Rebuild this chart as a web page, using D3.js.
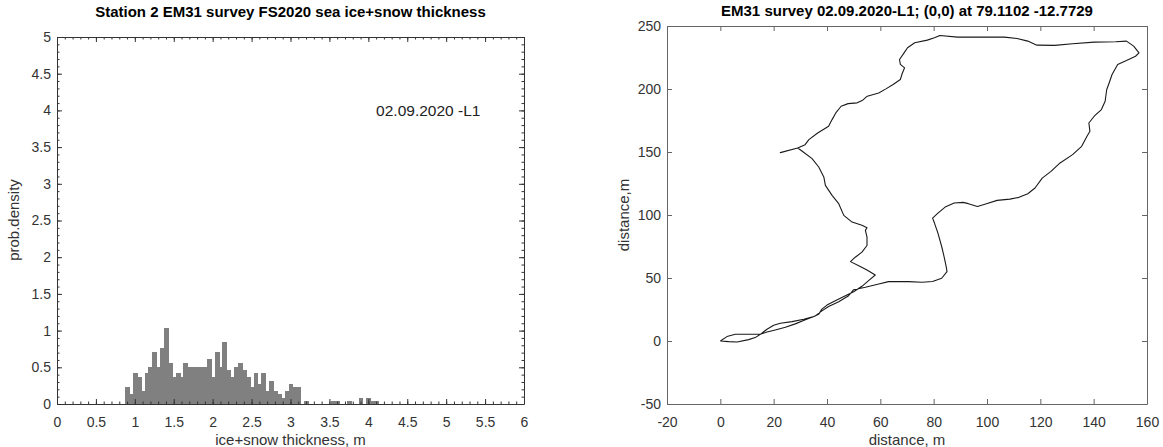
<!DOCTYPE html>
<html>
<head>
<meta charset="utf-8">
<script src="https://cdn.jsdelivr.net/npm/d3@7"></script>
<style>
  body { margin: 0; background: #fff; }
  svg { display: block; font-family: "Liberation Sans", Arial, sans-serif; }
  .tick text { fill: #333; }
</style>
</head>
<body>
<svg id="chart" width="1163" height="447"></svg>
<script>
// histogram: left edge of each bin (width 0.05 m) and its probability density
const binLeft = [0.875, 0.925, 0.975, 1.025, 1.075, 1.125, 1.175, 1.225, 1.275, 1.325,
  1.375, 1.425, 1.475, 1.525, 1.575, 1.625, 1.675, 1.725, 1.775, 1.825,
  1.875, 1.925, 1.975, 2.025, 2.075, 2.125, 2.175, 2.225, 2.275, 2.325,
  2.375, 2.425, 2.475, 2.525, 2.575, 2.625, 2.675, 2.725, 2.775, 2.825,
  2.875, 2.925, 2.975, 3.025, 3.075, 3.175, 3.525, 3.575, 3.725, 3.875,
  3.975, 4.025, 4.075];
const density = [0.23, 0.13, 0.42, 0.37, 0.18, 0.42, 0.51, 0.71, 0.51, 0.76,
  1.04, 0.56, 0.37, 0.42, 0.37, 0.56, 0.51, 0.51, 0.51, 0.51,
  0.51, 0.61, 0.37, 0.71, 0.51, 0.85, 0.47, 0.37, 0.51, 0.56,
  0.47, 0.37, 0.23, 0.42, 0.27, 0.42, 0.18, 0.32, 0.18, 0.13,
  0.08, 0.18, 0.27, 0.23, 0.23, 0.04, 0.04, 0.04, 0.04, 0.08,
  0.08, 0.04, 0.04];
const binWidth = 0.05;

const histXTicks = [0, 0.5, 1, 1.5, 2, 2.5, 3, 3.5, 4, 4.5, 5, 5.5, 6];
const histYTicks = [0, 0.5, 1, 1.5, 2, 2.5, 3, 3.5, 4, 4.5, 5];

// survey track (m from start point)
const trackX = [0, 3.1, 6.3, 10.6, 13.1, 15, 17.5, 20.6, 24.4, 28.1, 31.9, 35.6, 38.1,
  40.6, 44.4, 48.1, 50, 54.4, 59.4, 63.1, 70.6, 75.6, 79.6, 83, 85, 84.7, 83.9, 83,
  81.6, 80.3, 79.6, 81.6, 84.3, 87.7, 91, 93, 96.4, 99.8, 103.8, 108.6, 112, 115.3,
  118, 120.7, 124, 127.4, 132.1, 135.5, 137.5, 138.6, 138.2, 140.2, 142.9, 144.3,
  144.9, 145.6, 146.9, 149, 152.3, 155.7, 157, 155, 152.3, 148.3, 140.2, 132.1,
  125.4, 118.7, 115.3, 111.3, 106.5, 101.2, 89, 82.3, 80.3, 77.6, 72.9, 70.2, 68.9,
  67.2, 67.5, 69.1, 68.2, 67.5, 64.8, 62.1, 59.4, 55.1, 53.4, 51.3, 47.9, 45.3, 43.3,
  41.9, 40.6, 36.5, 33.2, 31.8, 29, 22.5, 29, 30.6, 34.4, 36.9, 38.8, 39.4, 41.9,
  44.4, 46.3, 49.4, 53.1, 55, 54.4, 55, 55, 53.1, 50.6, 48.8, 51.9, 55, 58.1, 55.6,
  53.1, 50, 46.9, 43.1, 40, 38.1, 36.9, 35, 31.3, 26.9, 22.5, 20, 17.5, 15, 10.6,
  5.6, 2.5, 0];
const trackY = [0, -0.5, -0.8, 1.1, 2.7, 5.3, 7.2, 8.8, 10.9, 13.6, 16.8, 19.9, 23.9,
  27.4, 31.1, 35.9, 40.7, 42.6, 45.2, 47.1, 47.1, 46.6, 47.2, 49.8, 55, 59, 67, 75,
  85.6, 93.6, 97.5, 101.5, 106.3, 109.5, 110, 109, 106.8, 109, 111.6, 112.6, 114, 116.9,
  121.4, 129.3, 134.6, 141.3, 147.9, 154.5, 162.5, 166.4, 173, 178.4, 183.7, 190.3,
  199.6, 203.6, 211.5, 219.5, 222.6, 226, 228.7, 234, 238, 237.5, 237.2, 235.9,
  234.6, 234.8, 238, 240.1, 241.2, 241.2, 241.2, 242.5, 240.6, 238.8, 236.7, 232.7, 228.7,
  223.4, 219.5, 216.8, 212.3, 207.5, 203.6, 200.1, 196.9, 194.3, 191.1, 189, 188.4, 186.3, 181,
  175.7, 170.4, 165.1, 159.8, 155.8, 153.2, 149.5, 153.2, 150.8, 144.7, 138.1, 130.2, 123.5, 115.6,
  109, 99.7, 94.4, 91.8, 89.9, 87.8, 82.4, 75.8, 70.5, 66.5, 63, 59.8, 56.4, 52.4, 47.9,
  43.4, 39.1, 35.9, 31.9, 28.5, 25.3, 21.3, 19.4, 17.3, 15.4, 14.1, 12.5, 9.3, 5.3, 5.3,
  5.3, 3.5, 0];

const mapXTicks = [-20, 0, 20, 40, 60, 80, 100, 120, 140, 160];
const mapYTicks = [-50, 0, 50, 100, 150, 200, 250];

const svg = d3.select('#chart');
svg.append('rect').attr('width', 1163).attr('height', 447).attr('fill', '#fff');

// plain hyphen minus like matlab, no trailing zeros
const fmt = d => String(+d.toFixed(2));

// ---------- left panel: histogram ----------
const hx = d3.scaleLinear().domain([0, 6]).range([57, 524]);
const hy = d3.scaleLinear().domain([0, 5]).range([404, 37]);

const left = svg.append('g');

left.append('g')
  .attr('shape-rendering', 'crispEdges')
  .selectAll('rect')
  .data(binLeft.map((b, i) => ({ b, v: density[i] })))
  .join('rect')
  .attr('x', d => Math.round(hx(d.b)))
  .attr('width', d => Math.round(hx(d.b + binWidth)) - Math.round(hx(d.b)))
  .attr('y', d => Math.round(hy(d.v)))
  .attr('height', d => Math.round(hy(0)) - Math.round(hy(d.v)))
  .attr('fill', '#808080')
  .attr('stroke', '#808080')
  .attr('stroke-width', 1);

function boxAxes(g, x, y, opt) {
  const x0 = x.range()[0], x1 = x.range()[1];
  const y0 = y.range()[0], y1 = y.range()[1];

  // minor ticks
  if (opt.minorX) {
    [[d3.axisBottom, y0], [d3.axisTop, y1]].forEach(([a, pos]) => {
      g.append('g').attr('transform', `translate(0,${pos})`)
        .call(a(x).tickValues(opt.minorX).tickSize(-2.5).tickFormat(''))
        .call(s => s.select('.domain').remove());
    });
    [[d3.axisLeft, x0], [d3.axisRight, x1]].forEach(([a, pos]) => {
      g.append('g').attr('transform', `translate(${pos},0)`)
        .call(a(y).tickValues(opt.minorY).tickSize(-2.5).tickFormat(''))
        .call(s => s.select('.domain').remove());
    });
  }
  // major ticks, labels on bottom and left only
  g.append('g').attr('transform', `translate(0,${y0})`)
    .call(d3.axisBottom(x).tickValues(opt.xTicks).tickSize(-5).tickSizeOuter(0).tickPadding(13).tickFormat(fmt));
  g.append('g').attr('transform', `translate(0,${y1})`)
    .call(d3.axisTop(x).tickValues(opt.xTicks).tickSize(-5).tickSizeOuter(0).tickFormat(''));
  g.append('g').attr('transform', `translate(${x0},0)`)
    .call(d3.axisLeft(y).tickValues(opt.yTicks).tickSize(-5).tickSizeOuter(0).tickPadding(6).tickFormat(fmt));
  g.append('g').attr('transform', `translate(${x1},0)`)
    .call(d3.axisRight(y).tickValues(opt.yTicks).tickSize(-5).tickSizeOuter(0).tickFormat(''));

  g.selectAll('.domain, .tick line').attr('stroke', opt.color);
  g.selectAll('.tick text').attr('font-size', 14).attr('font-family', '"Liberation Sans", Arial, sans-serif');
}

boxAxes(left, hx, hy, {
  xTicks: histXTicks,
  yTicks: histYTicks,
  minorX: d3.range(0, 60.5, 1).map(d => d / 10),
  minorY: d3.range(0, 50.5, 1).map(d => d / 10),
  color: '#333'
});

left.append('text')
  .attr('x', (hx.range()[0] + hx.range()[1]) / 2).attr('y', 17)
  .attr('text-anchor', 'middle').attr('font-size', 15).attr('font-weight', 'bold')
  .text('Station 2 EM31 survey FS2020 sea ice+snow thickness');

left.append('text')
  .attr('x', (hx.range()[0] + hx.range()[1]) / 2).attr('y', 445)
  .attr('text-anchor', 'middle').attr('font-size', 15).attr('fill', '#333')
  .text('ice+snow thickness, m');

left.append('text')
  .attr('transform', 'translate(19,220) rotate(-90)')
  .attr('text-anchor', 'middle').attr('font-size', 15).attr('fill', '#333')
  .text('prob.density');

left.append('text')
  .attr('x', hx(4.1)).attr('y', hy(4)).attr('dy', '0.35em')
  .attr('font-size', 15.5).attr('fill', '#222')
  .text('02.09.2020 -L1');

// ---------- right panel: survey track ----------
const mx = d3.scaleLinear().domain([-20, 160]).range([667, 1147]);
const my = d3.scaleLinear().domain([-50, 250]).range([404, 26]);

const right = svg.append('g');

right.append('path')
  .datum(trackX.map((x, i) => [x, trackY[i]]))
  .attr('fill', 'none')
  .attr('stroke', '#1a1a1a')
  .attr('stroke-width', 1.1)
  .attr('stroke-linejoin', 'round')
  .attr('d', d3.line().x(d => mx(d[0])).y(d => my(d[1])));

boxAxes(right, mx, my, {
  xTicks: mapXTicks,
  yTicks: mapYTicks,
  color: '#666'
});

right.append('text')
  .attr('x', (mx.range()[0] + mx.range()[1]) / 2).attr('y', 16)
  .attr('text-anchor', 'middle').attr('font-size', 15).attr('font-weight', 'bold')
  .text('EM31 survey 02.09.2020-L1; (0,0) at 79.1102 -12.7729');

right.append('text')
  .attr('x', (mx.range()[0] + mx.range()[1]) / 2).attr('y', 445)
  .attr('text-anchor', 'middle').attr('font-size', 15).attr('fill', '#333')
  .text('distance, m');

right.append('text')
  .attr('transform', 'translate(629,215) rotate(-90)')
  .attr('text-anchor', 'middle').attr('font-size', 15).attr('fill', '#333')
  .text('distance,m');
</script>
</body>
</html>
